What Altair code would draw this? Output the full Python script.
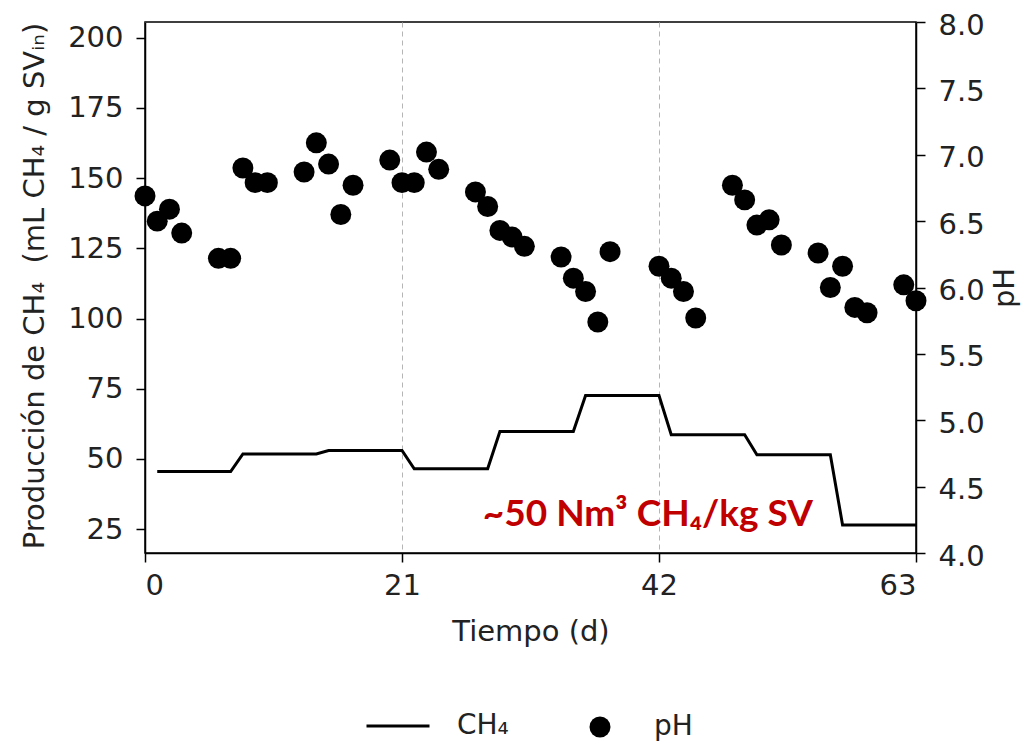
import altair as alt
import pandas as pd

# --- data ---
t_ch4 = [1, 7, 8, 14, 15, 21, 22, 28, 29, 35, 36, 42, 43, 49, 50, 56, 57, 63]
ch4 = [45.5, 45.5, 51.8, 51.8, 53.0, 53.0, 46.5, 46.5, 59.8, 59.8,
       72.6, 72.6, 58.6, 58.6, 51.5, 51.5, 26.5, 26.5]

t_ph = [0, 1, 2, 3, 6, 7, 8, 9, 10, 13, 14, 15, 16, 17, 20, 21, 22, 23, 24,
        27, 28, 29, 30, 31, 34, 35, 36, 37, 38, 42, 43, 44, 45, 48, 49, 50,
        51, 52, 55, 56, 57, 58, 59, 62, 63]
ph = [6.69, 6.50, 6.59, 6.41, 6.22, 6.22, 6.90, 6.79, 6.79, 6.87,
      7.09, 6.93, 6.55, 6.77, 6.96, 6.79, 6.79, 7.02, 6.89, 6.72,
      6.61, 6.43, 6.38, 6.31, 6.23, 6.07, 5.97, 5.74, 6.27, 6.16,
      6.07, 5.97, 5.77, 6.77, 6.66, 6.47, 6.51, 6.32, 6.26, 6.00,
      6.16, 5.85, 5.81, 6.02, 5.90]

x_ticks = [0, 21, 42, 63]
y_left_ticks = [25, 50, 75, 100, 125, 150, 175, 200]
y_right_ticks = [4.0, 4.5, 5.0, 5.5, 6.0, 6.5, 7.0, 7.5, 8.0]

ann_x = [27.6]
ann_y = [29.9]
ann_text = ["~50 Nm³ CH₄/kg SV"]

df_line = pd.DataFrame({"t": t_ch4, "ch4": ch4, "s": ["CH₄"] * len(t_ch4)})
df_pts = pd.DataFrame({"t": t_ph, "ph": ph, "s": ["pH"] * len(t_ph)})
df_ann = pd.DataFrame({"t": ann_x, "y": ann_y, "txt": ann_text})

FONT = "DejaVu Sans"
FS = 29
W, H = 771, 531

x_enc = alt.X(
    "t:Q",
    scale=alt.Scale(domain=[0, 63], nice=False, zero=False),
    axis=alt.Axis(values=x_ticks, title="Tiempo (d)", grid=True,
                  gridDash=[5, 4], gridColor="#b5b5b5", gridWidth=1,
                  labelPadding=9, titlePadding=17),
)

left_scale = alt.Scale(domain=[16.5, 205.6], nice=False, zero=False)

line = alt.Chart(df_line).mark_line(strokeWidth=3).encode(
    x=x_enc,
    y=alt.Y("ch4:Q", scale=left_scale,
            axis=alt.Axis(orient="left", values=y_left_ticks,
                          title="Producción de CH₄\u00a0\u00a0(mL CH₄ / g SVᵢₙ)",
                          grid=False, labelPadding=13,
                          titleX=-111, titleY=H / 2 - 2, titleAngle=270,
                          titleAlign="center", titleBaseline="middle")),
    color=alt.Color("s:N", scale=alt.Scale(domain=["CH₄"], range=["black"]),
                    legend=alt.Legend(orient="none", legendX=220, legendY=671,
                                      title=None, symbolType="stroke",
                                      symbolSize=3969, symbolStrokeWidth=3,
                                      labelFontSize=28, labelFont=FONT,
                                      labelColor="#222", labelOffset=26,
                                      padding=0)),
)

ann = alt.Chart(df_ann).mark_text(
    align="left", baseline="middle", font="Lato", fontWeight="bold",
    fontSize=37, color="#C00000"
).encode(
    x=alt.X("t:Q"),
    y=alt.Y("y:Q", scale=left_scale),
    text="txt:N",
)

pts = alt.Chart(df_pts).mark_point(filled=True, size=440, opacity=1).encode(
    x=x_enc,
    y=alt.Y("ph:Q", scale=alt.Scale(domain=[4, 8], nice=False, zero=False),
            axis=alt.Axis(orient="right", values=y_right_ticks, format=".1f",
                          title="pH", grid=False, labelPadding=13,
                          labelOffset=3,
                          titleX=88, titleY=H / 2, titleAngle=270,
                          titleAlign="center", titleBaseline="middle")),
    color=alt.Color("s:N", scale=alt.Scale(domain=["pH"], range=["black"]),
                    legend=alt.Legend(orient="none", legendX=441, legendY=691,
                                      title=None, symbolType="circle",
                                      symbolSize=440,
                                      labelFontSize=28, labelFont=FONT,
                                      labelColor="#222", labelOffset=40,
                                      padding=0)),
)

chart = alt.layer(alt.layer(line, ann), pts).resolve_scale(
    y="independent", color="independent"
).properties(
    width=W, height=H,
    autosize=alt.AutoSizeParams(type="none"),
    padding={"left": 137, "top": 14, "right": 106, "bottom": 190},
).configure_view(
    stroke="black", strokeWidth=1.5
).configure_axis(
    domainColor="black", domainWidth=1.5, tickColor="black", tickWidth=1.5,
    tickSize=9, labelFontSize=FS, titleFontSize=FS, labelFont=FONT,
    titleFont=FONT, labelColor="#222", titleColor="#222",
    titleFontWeight="normal",
)

chart.save("out.html", embed_options={"renderer": "svg", "actions": False})
